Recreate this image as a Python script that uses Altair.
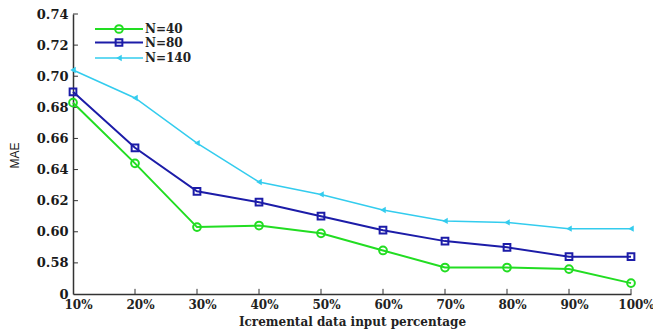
import altair as alt
import pandas as pd

pct = [10, 20, 30, 40, 50, 60, 70, 80, 90, 100]
n40 = [0.683, 0.644, 0.603, 0.604, 0.599, 0.588, 0.577, 0.577, 0.576, 0.567]
n80 = [0.690, 0.654, 0.626, 0.619, 0.610, 0.601, 0.594, 0.590, 0.584, 0.584]
n140 = [0.704, 0.686, 0.657, 0.632, 0.624, 0.614, 0.607, 0.606, 0.602, 0.602]
series = ["N=40", "N=80", "N=140"]
colors = ["#22dd22", "#1c1ca8", "#33ccee"]
shapes = ["circle", "square", "triangle-left"]
y_ticks = [0.56, 0.58, 0.60, 0.62, 0.64, 0.66, 0.68, 0.70, 0.72, 0.74]

rows = []
for name, vals in zip(series, [n40, n80, n140]):
    for p, v in zip(pct, vals):
        rows.append({"pct": p, "mae": v, "series": name})
df = pd.DataFrame(rows)

W, H = 558, 280
serif = "DejaVu Serif"

x_scale = alt.Scale(domain=[10, 100], nice=False, zero=False)
y_scale = alt.Scale(domain=[0.56, 0.74], nice=False, zero=False)

x_axis = alt.Axis(values=pct, labelExpr="datum.value + '%'", tickSize=0, labelPadding=5,
                  labelOffset=5, labelFont=serif, labelFontWeight="bold", labelFontSize=12,
                  labelColor="#222", domainColor="#333", domainWidth=1.5, grid=False,
                  labelOverlap=False, labelBound=False,
                  title="Icremental data input percentage", titleFont=serif,
                  titleFontWeight="bold", titleFontSize=12, titleColor="#222",
                  titlePadding=6, labelFlush=False)
y_axis = alt.Axis(values=y_ticks,
                  labelExpr="datum.value < 0.57 ? '0' : format(datum.value, '.2f')",
                  tickSize=0, labelPadding=5, labelFont=serif, labelFontWeight="bold",
                  labelFontSize=13, labelColor="#1a1a1a", domainColor="#333", domainWidth=1.5,
                  labelOverlap=False, labelBound=False,
                  grid=False, title="MAE", titleFont="Liberation Sans",
                  titleFontWeight="normal", titleFontSize=12, titleColor="#222",
                  titleAngle=-90, titleX=-52, titleY=141, labelFlush=False)

def X(field):
    return alt.X(field, scale=x_scale, axis=x_axis)

def Y(field):
    return alt.Y(field, scale=y_scale, axis=y_axis)

layers = []

# inward ticks
xt = pd.DataFrame({"pct": pct[1:], "y0": [0.56] * 9, "y1": [0.5633] * 9})
layers.append(alt.Chart(xt).mark_rule(color="#333", strokeWidth=1).encode(
    x=X("pct:Q"), y=Y("y0:Q"), y2="y1:Q"))
yt = pd.DataFrame({"mae": y_ticks[1:], "x0": [10] * 9, "x1": [10.8] * 9})
layers.append(alt.Chart(yt).mark_rule(color="#333", strokeWidth=1).encode(
    y=Y("mae:Q"), x=X("x0:Q"), x2="x1:Q"))

widths = [2, 2, 1.5]
legend_y = [15, 28.5, 44]
sizes = [60, 45, 40]
for name, col, shp, sw, ly, sz in zip(series, colors, shapes, widths, legend_y, sizes):
    d = df[df.series == name]
    layers.append(alt.Chart(d).mark_line(color=col, strokeWidth=sw).encode(
        x=X("pct:Q"), y=Y("mae:Q")))
    filled = shp == "triangle-left"
    layers.append(alt.Chart(d).mark_point(shape=shp, color=col, filled=filled,
                                          size=sz, strokeWidth=2, opacity=1).encode(
        x=X("pct:Q"), y=Y("mae:Q")))
    ld = pd.DataFrame({"series": [name]})
    layers.append(alt.Chart(ld).mark_rule(color=col, strokeWidth=sw).encode(
        x=alt.value(22), x2=alt.value(70), y=alt.value(ly)))
    layers.append(alt.Chart(ld).mark_point(shape=shp, color=col, filled=filled,
                                           size=sz, strokeWidth=2, opacity=1).encode(
        x=alt.value(46), y=alt.value(ly)))
    layers.append(alt.Chart(ld).mark_text(align="left", baseline="middle", font=serif,
                                          fontWeight="bold", fontSize=12, color="#222").encode(
        x=alt.value(72), y=alt.value(ly), text="series:N"))

chart = alt.layer(*layers).properties(
    width=W, height=H,
    background="white",
    autosize=alt.AutoSizeParams(type="none"),
    padding={"left": 73, "top": 14, "right": 22, "bottom": 39},
).configure_view(stroke=None)

chart.save("out.html", embed_options={"renderer": "svg", "actions": False})
